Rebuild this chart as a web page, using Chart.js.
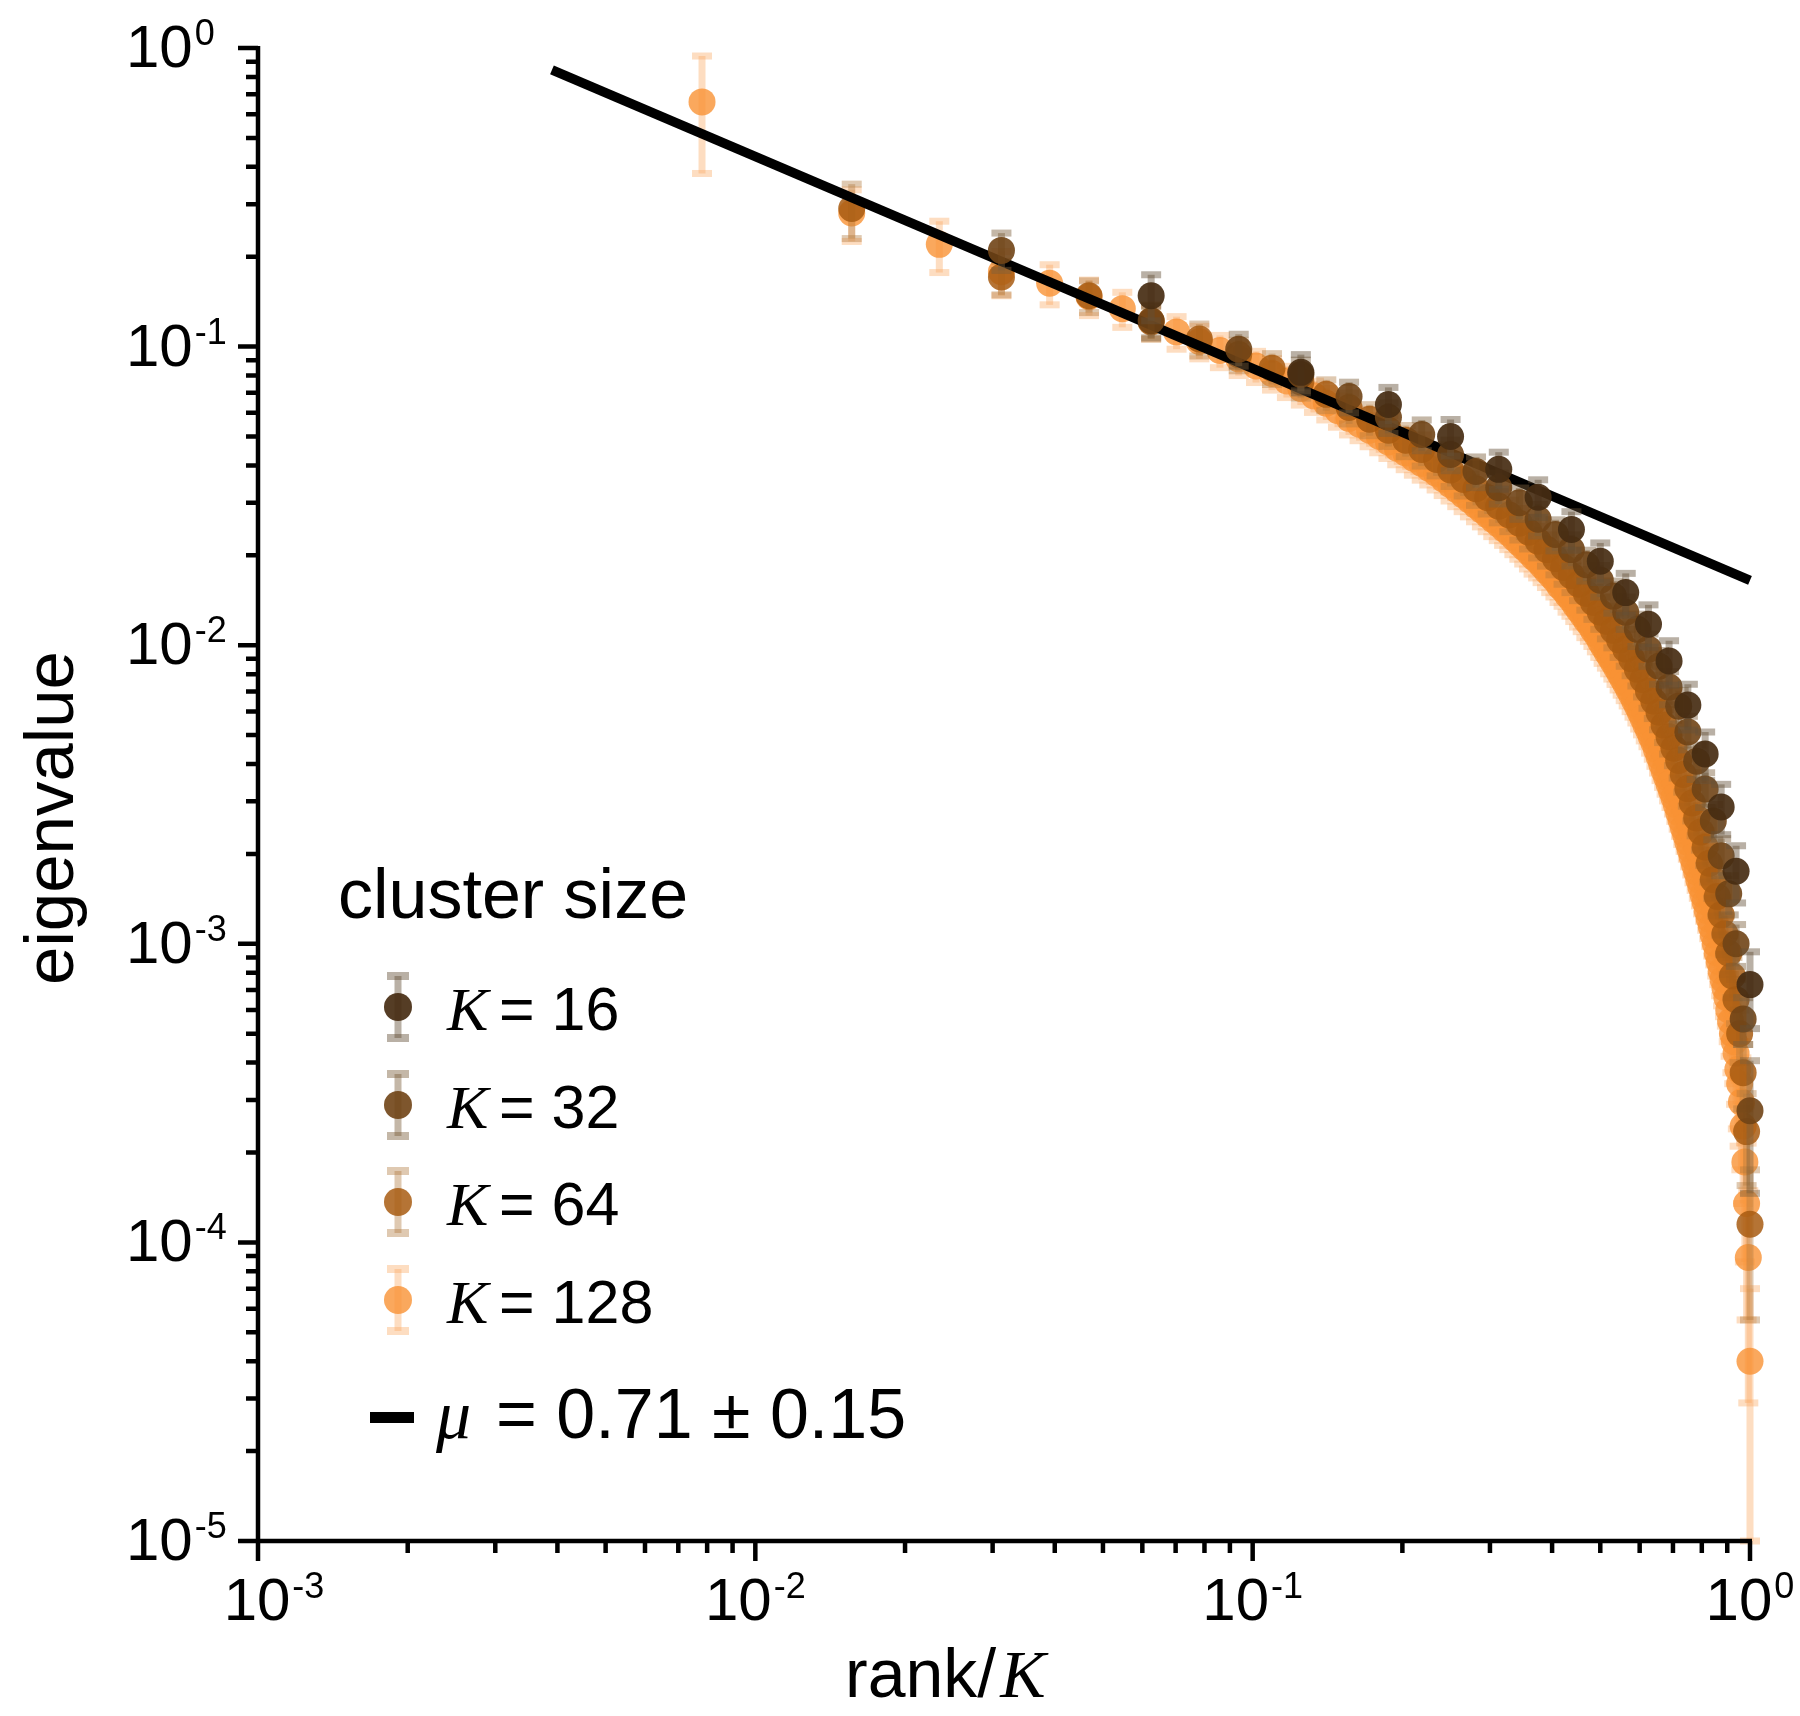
<!DOCTYPE html>
<html>
<head>
<meta charset="utf-8">
<script src="https://cdn.jsdelivr.net/npm/chart.js@4.4.1/dist/chart.umd.min.js"></script>
<style>
  html, body { margin: 0; padding: 0; background: #fff; }
  #wrap { width: 1800px; height: 1716px; position: relative; }
</style>
</head>
<body>
<div id="wrap"><canvas id="spectrumChart"></canvas></div>
<script>
// Eigenvalue spectra per cluster size, index = rank - 1 (x = rank / K)
const clusterSizes = [16, 32, 64, 128];

const eig16 = [0.148, 0.082, 0.064, 0.050, 0.0388, 0.0313, 0.0244, 0.0191, 0.0150, 0.01175, 0.00885, 0.0063, 0.00432, 0.00287, 0.00175, 0.00073];
const err16 = [0.026, 0.012, 0.009, 0.007, 0.0055, 0.0045, 0.0036, 0.0029, 0.0024, 0.0019, 0.0015, 0.0011, 0.0008, 0.00055, 0.00038, 0.00021];

const eig32 = [0.21, 0.122, 0.098, 0.0806, 0.068, 0.058, 0.0508, 0.0435, 0.0382, 0.0337, 0.030, 0.0264, 0.0235, 0.0209, 0.0186, 0.0165,
  0.0146, 0.0129, 0.0113, 0.0097, 0.0085, 0.00724, 0.00625, 0.00512, 0.00409, 0.0033, 0.00258, 0.00197, 0.00147, 0.0010, 0.00056, 0.000276];
const err32 = [0.03, 0.015, 0.012, 0.0095, 0.008, 0.0068, 0.006, 0.0051, 0.0045, 0.004, 0.0036, 0.0032, 0.0028, 0.0025, 0.0022, 0.002,
  0.0018, 0.0016, 0.0014, 0.0012, 0.0011, 0.00092, 0.0008, 0.00066, 0.00054, 0.00044, 0.00035, 0.00028, 0.00022, 0.00016, 0.0001, 0.00013];

const eig64 = [0.29, 0.171, 0.148, 0.121, 0.106, 0.094, 0.0847, 0.0762, 0.0692, 0.0625, 0.0571, 0.0525, 0.0486, 0.0452, 0.0419, 0.0386,
  0.0359, 0.0334, 0.0312, 0.0292, 0.0273, 0.0256, 0.0239, 0.0223, 0.0209, 0.0195, 0.0182, 0.0171, 0.016, 0.0149, 0.0139, 0.0129,
  0.0120, 0.0112, 0.0104, 0.0097, 0.0090, 0.0083, 0.00766, 0.00703, 0.00649, 0.00596, 0.0054, 0.00494, 0.00452, 0.00411, 0.00369, 0.00331,
  0.00296, 0.00264, 0.00237, 0.00211, 0.00186, 0.00164, 0.00144, 0.00125, 0.00108, 0.00093, 0.00078, 0.00065, 0.0005, 0.00037, 0.000235, 0.000115];
const err64 = [0.06, 0.022, 0.018, 0.015, 0.013, 0.011, 0.01, 0.009, 0.0082, 0.0074, 0.0068, 0.0062, 0.0058, 0.0054, 0.005, 0.0046,
  0.0043, 0.004, 0.0037, 0.0035, 0.0033, 0.0031, 0.0029, 0.0027, 0.0025, 0.0023, 0.0022, 0.0021, 0.0019, 0.0018, 0.0017, 0.0016,
  0.0015, 0.0014, 0.0013, 0.0012, 0.0011, 0.001, 0.00095, 0.00088, 0.00081, 0.00075, 0.00068, 0.00062, 0.00057, 0.00052, 0.00047, 0.00042,
  0.00038, 0.00034, 0.00031, 0.00028, 0.00025, 0.00022, 0.0002, 0.00018, 0.00016, 0.00014, 0.00012, 0.00011, 0.0001, 0.00009, 0.00008, 0.00006];

const eig128 = [0.66, 0.28, 0.22, 0.178, 0.163, 0.147, 0.134, 0.122, 0.112, 0.104, 0.097, 0.091,
  0.0861, 0.0813, 0.0767, 0.0724, 0.0684, 0.0646, 0.061, 0.0575, 0.055, 0.0525, 0.0501, 0.0479, 0.0457, 0.044, 0.0422, 0.0406, 0.0391, 0.0376, 0.036, 0.0345,
  0.0331, 0.0318, 0.0306, 0.0294, 0.0283, 0.0273, 0.0263, 0.0254, 0.0245, 0.0237, 0.0228, 0.022, 0.0212, 0.0205, 0.0197, 0.0191,
  0.0184, 0.0177, 0.0171, 0.0165, 0.0158, 0.0153, 0.0147, 0.0142, 0.0136, 0.0131, 0.0126, 0.0121, 0.0117, 0.0112, 0.0108, 0.0103,
  0.00989, 0.00948, 0.00912, 0.00875, 0.00839, 0.00805, 0.00773, 0.00741, 0.00711, 0.00681, 0.00652, 0.00624, 0.00596, 0.00569, 0.00543, 0.00519,
  0.00495, 0.00472, 0.00447, 0.00424, 0.00401, 0.0038, 0.00361, 0.00342, 0.00325, 0.00309, 0.00292, 0.00275, 0.0026, 0.00245, 0.00232, 0.00219,
  0.00207, 0.00195, 0.00184, 0.00174, 0.00164, 0.00155, 0.00146, 0.00138, 0.00129, 0.00121, 0.00114, 0.00107, 0.0010, 0.00093, 0.00087, 0.00081,
  0.00076, 0.00071, 0.00066, 0.0006, 0.00055, 0.0005, 0.00047, 0.00043, 0.00038, 0.00034, 0.000295, 0.000245, 0.000186, 0.000135, 0.000089, 0.00004];
const err128 = [0.28, 0.055, 0.043, 0.03, 0.025, 0.02, 0.018, 0.016, 0.014, 0.013, 0.012, 0.011,
  0.0103, 0.0098, 0.0092, 0.0087, 0.0082, 0.0078, 0.0073, 0.0069, 0.0066, 0.0063, 0.006, 0.0057, 0.0055, 0.0053, 0.0051, 0.0049, 0.0047, 0.0045, 0.0043, 0.0041,
  0.004, 0.0038, 0.0037, 0.0035, 0.0034, 0.0033, 0.0032, 0.003, 0.0029, 0.0028, 0.0027, 0.0026, 0.0025, 0.0025, 0.0024, 0.0023,
  0.0022, 0.0021, 0.0021, 0.002, 0.0019, 0.0018, 0.0018, 0.0017, 0.0016, 0.0016, 0.0015, 0.0015, 0.0014, 0.0013, 0.0013, 0.0012,
  0.0012, 0.0011, 0.0011, 0.00105, 0.001, 0.00097, 0.00093, 0.00089, 0.00085, 0.00082, 0.00078, 0.00075, 0.00072, 0.00068, 0.00065, 0.00062,
  0.0006, 0.00057, 0.00054, 0.00051, 0.00049, 0.00046, 0.00044, 0.00041, 0.00039, 0.00037, 0.00035, 0.00033, 0.00031, 0.0003, 0.00028, 0.00027,
  0.00026, 0.00025, 0.00024, 0.00023, 0.00022, 0.00021, 0.0002, 0.00019, 0.00018, 0.00017, 0.00016, 0.00016, 0.00015, 0.00015, 0.00014, 0.00014,
  0.00014, 0.00014, 0.00013, 0.00013, 0.00013, 0.00013, 0.00013, 0.00014, 0.00014, 0.00013, 0.00012, 0.00011, 0.0001, 0.00008, 0.00006, 0.00003];

// power-law fit, endpoints [rank/K, eigenvalue]
const fitLine = [[0.0039, 0.845], [1.0, 0.0165]];
const fitText = '= 0.71 \u00b1 0.15';

const xDecades = [-3, -2, -1, 0];
const yDecades = [-5, -4, -3, -2, -1, 0];

const colors = {
  point: ['rgba(70, 45, 18, 0.92)', 'rgba(112, 68, 22, 0.9)', 'rgba(168, 92, 18, 0.85)', 'rgba(249, 146, 52, 0.8)'],
  error: ['rgba(100, 80, 55, 0.45)', 'rgba(125, 95, 60, 0.45)', 'rgba(175, 120, 60, 0.4)', 'rgba(250, 170, 100, 0.4)'],
};
const SANS = '"Liberation Sans", Arial, sans-serif';
const SERIF = '"Liberation Serif", "Times New Roman", serif';

const spectra = [eig16, eig32, eig64, eig128];
const errors = [err16, err32, err64, err128];
const drawOrder = [0, 1, 3, 4];

function toPoints(values, K) {
  return values.map((v, i) => ({ x: (i + 1) / K, y: v }));
}

// error bars drawn under each dataset's markers
const errorBars = {
  id: 'errorBars',
  beforeDatasetDraw(chart, args) {
    const ds = chart.data.datasets[args.index];
    if (!ds.errors) return;
    const xs = chart.scales.x, ys = chart.scales.y, ctx = chart.ctx;
    ctx.save();
    ctx.fillStyle = ds.errorColor;
    ds.data.forEach((p, i) => {
      const e = ds.errors[i];
      const px = xs.getPixelForValue(p.x);
      const top = ys.getPixelForValue(p.y + e);
      const low = p.y - e > ys.min ? p.y - e : ys.min;
      const bot = ys.getPixelForValue(low);
      ctx.fillRect(px - 3.5, top, 7, bot - top);
      ctx.fillRect(px - 10, top - 3.5, 20, 7);
      ctx.fillRect(px - 10, bot - 3.5, 20, 7);
    });
    ctx.restore();
  }
};

function drawPow(ctx, exp, x, base, supBase, align) {
  ctx.font = '60px ' + SANS;
  const w10 = ctx.measureText('10').width;
  ctx.font = '36px ' + SANS;
  const sup = String(exp);
  const wSup = ctx.measureText(sup).width;
  let left = x;
  if (align === 'center') left = x - (w10 + 2 + wSup) / 2;
  ctx.textAlign = 'left';
  ctx.font = '60px ' + SANS;
  ctx.fillText('10', left, base);
  ctx.font = '36px ' + SANS;
  ctx.fillText(sup, left + w10 + 2, supBase);
}

// axes, ticks, labels and legend
const frame = {
  id: 'frame',
  afterDraw(chart) {
    const { ctx, chartArea: a, scales: { x, y } } = chart;
    ctx.save();
    ctx.strokeStyle = '#000';
    ctx.fillStyle = '#000';
    ctx.lineWidth = 4.5;
    ctx.lineCap = 'butt';
    ctx.beginPath();
    ctx.moveTo(a.left, a.top - 2);
    ctx.lineTo(a.left, a.bottom + 2);
    ctx.moveTo(a.left - 2, a.bottom);
    ctx.lineTo(a.right + 2, a.bottom);

    yDecades.forEach(e => {
      const py = y.getPixelForValue(Math.pow(10, e));
      ctx.moveTo(a.left, py);
      ctx.lineTo(a.left - 20, py);
      if (e < 0) {
        for (let m = 2; m <= 9; m++) {
          const my = y.getPixelForValue(m * Math.pow(10, e));
          ctx.moveTo(a.left, my);
          ctx.lineTo(a.left - 12, my);
        }
      }
    });
    xDecades.forEach(e => {
      const px = x.getPixelForValue(Math.pow(10, e));
      ctx.moveTo(px, a.bottom);
      ctx.lineTo(px, a.bottom + 20);
      if (e < 0) {
        for (let m = 2; m <= 9; m++) {
          const mx = x.getPixelForValue(m * Math.pow(10, e));
          ctx.moveTo(mx, a.bottom);
          ctx.lineTo(mx, a.bottom + 12);
        }
      }
    });
    ctx.stroke();

    ctx.textBaseline = 'alphabetic';
    yDecades.forEach(e => {
      const py = y.getPixelForValue(Math.pow(10, e));
      drawPow(ctx, e, 126, py + 19, py - 3, 'left');
    });
    xDecades.forEach((e, i) => {
      const px = x.getPixelForValue(Math.pow(10, e)) + (i === 0 ? 16 : 0);
      drawPow(ctx, e, px, a.bottom + 79, a.bottom + 57, 'center');
    });

    // axis titles
    ctx.font = '68px ' + SANS;
    ctx.textAlign = 'left';
    ctx.fillText('rank/', 845, 1697);
    const wRank = ctx.measureText('rank/').width;
    ctx.font = 'italic 68px ' + SERIF;
    ctx.fillText('K', 845 + wRank + 4, 1697);

    ctx.save();
    ctx.translate(73, 818);
    ctx.rotate(-Math.PI / 2);
    ctx.font = '69px ' + SANS;
    ctx.textAlign = 'center';
    ctx.fillText('eigenvalue', 0, 0);
    ctx.restore();

    // legend
    ctx.textAlign = 'left';
    ctx.font = '70px ' + SANS;
    ctx.fillText('cluster size', 338, 918);
    const rowY = [1007, 1105, 1202, 1300];
    clusterSizes.forEach((K, i) => {
      const cy = rowY[i];
      ctx.fillStyle = colors.error[i];
      ctx.fillRect(398 - 3.5, cy - 31, 7, 62);
      ctx.fillRect(398 - 11, cy - 35, 22, 8);
      ctx.fillRect(398 - 11, cy + 27, 22, 8);
      ctx.fillStyle = colors.point[i];
      ctx.beginPath();
      ctx.arc(398, cy, 14, 0, Math.PI * 2);
      ctx.fill();
      ctx.fillStyle = '#000';
      ctx.font = 'italic 62px ' + SERIF;
      ctx.fillText('K', 447, cy + 23);
      ctx.font = '61px ' + SANS;
      ctx.fillText('= ' + K, 499, cy + 23);
    });
    ctx.fillStyle = '#000';
    ctx.fillRect(370, 1412, 44, 11);
    ctx.font = 'italic 70px ' + SERIF;
    ctx.fillText('\u03bc', 436, 1438);
    ctx.font = '70px ' + SANS;
    ctx.fillText(fitText, 496, 1438);
    ctx.restore();
  }
};

const datasets = clusterSizes.map((K, i) => ({
  label: 'K = ' + K,
  data: toPoints(spectra[i], K),
  errors: errors[i],
  errorColor: colors.error[i],
  backgroundColor: colors.point[i],
  borderWidth: 0,
  pointRadius: 13.5,
  pointHoverRadius: 13.5,
  showLine: false,
  clip: false,
  order: drawOrder[i],
}));
datasets.push({
  label: 'fit',
  data: fitLine.map(p => ({ x: p[0], y: p[1] })),
  showLine: true,
  borderColor: '#000',
  borderWidth: 9.5,
  borderCapStyle: 'butt',
  pointRadius: 0,
  clip: false,
  order: 2,
});

new Chart(document.getElementById('spectrumChart'), {
  type: 'scatter',
  data: { datasets },
  options: {
    responsive: true,
    maintainAspectRatio: false,
    animation: false,
    events: [],
    layout: { padding: { left: 258, right: 50, top: 48, bottom: 175 } },
    plugins: {
      legend: { display: false },
      tooltip: { enabled: false }
    },
    scales: {
      x: {
        type: 'logarithmic', min: 0.001, max: 1,
        grid: { display: false, drawTicks: false },
        border: { display: false },
        ticks: { display: false }
      },
      y: {
        type: 'logarithmic', min: 0.00001, max: 1,
        grid: { display: false, drawTicks: false },
        border: { display: false },
        ticks: { display: false }
      }
    }
  },
  plugins: [errorBars, frame]
});
</script>
</body>
</html>
